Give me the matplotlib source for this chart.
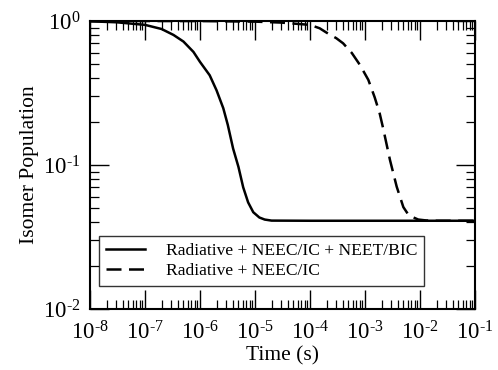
import matplotlib
matplotlib.use("Agg")
import numpy as np
import matplotlib.pyplot as plt
from matplotlib.ticker import LogLocator, NullFormatter, FuncFormatter

plt.rcParams['font.family'] = ['Liberation Serif', 'DejaVu Serif']
plt.rcParams['mathtext.fontset'] = 'custom'
plt.rcParams['mathtext.rm'] = 'Liberation Serif'
plt.rcParams['mathtext.it'] = 'Liberation Serif:italic'
plt.rcParams['mathtext.bf'] = 'Liberation Serif:bold'
plt.rcParams['axes.unicode_minus'] = False

# Data
solid_t = [1e-8, 3e-8, 1e-7, 2e-7, 3.3e-7, 5e-7, 7.6e-7, 1.0e-6, 1.5e-6, 2.0e-6,
           2.65e-6, 3.2e-6, 4.0e-6, 5.0e-6, 6.1e-6, 7.5e-6, 9.3e-6, 1.2e-5, 1.5e-5,
           2e-5, 1e-4, 1e-3, 1e-2, 1e-1]
solid_p = [0.995, 0.98, 0.94, 0.88, 0.80, 0.72, 0.61, 0.52, 0.42, 0.33,
           0.248, 0.19, 0.13, 0.097, 0.07, 0.055, 0.047, 0.0432, 0.0418,
           0.0411, 0.041, 0.041, 0.041, 0.041]

dash_t = [1e-8, 1e-6, 1e-5, 3e-5, 1e-4, 1.5e-4, 2e-4, 3e-4, 4e-4, 5.75e-4, 8.1e-4,
          1.15e-3, 1.5e-3, 1.85e-3, 2.15e-3, 2.85e-3, 3.77e-3, 4.98e-3,
          6.0e-3, 7.1e-3, 9.3e-3, 1.3e-2, 2e-2, 1e-1]
dash_p = [1.0, 0.999, 0.99, 0.975, 0.94, 0.89, 0.83, 0.76, 0.70, 0.60, 0.495,
          0.39, 0.295, 0.228, 0.178, 0.108, 0.0707, 0.051,
          0.0458, 0.0437, 0.0418, 0.0412, 0.041, 0.041]

labels = ["Radiative + NEEC/IC + NEET/BIC", "Radiative + NEEC/IC"]


def pow_label(v, pos):
    e = int(round(np.log10(v)))
    if e < 0:
        return r'$\mathdefault{10^{\text{-}%d}}$' % (-e)
    return r'$\mathdefault{10^{%d}}$' % e


fig = plt.figure(figsize=(4.98, 3.70), dpi=100)
ax = fig.add_axes([90/498, 1-309/370, 385/498, 288/370])

ax.plot(solid_t, solid_p, color='black', lw=1.8, label=labels[0])
ax.plot(dash_t, dash_p, color='black', lw=1.8, dashes=(6, 3), label=labels[1])

ax.set_xscale('log')
ax.set_yscale('log')
ax.set_xlim(1e-8, 1e-1)
ax.set_ylim(1e-2, 1e0)

ax.xaxis.set_major_locator(LogLocator(base=10, numticks=20))
ax.xaxis.set_minor_locator(LogLocator(base=10, subs=range(2, 10), numticks=20))
ax.yaxis.set_major_locator(LogLocator(base=10, numticks=20))
ax.yaxis.set_minor_locator(LogLocator(base=10, subs=range(2, 10), numticks=20))
ax.xaxis.set_major_formatter(FuncFormatter(pow_label))
ax.yaxis.set_major_formatter(FuncFormatter(pow_label))
ax.xaxis.set_minor_formatter(NullFormatter())
ax.yaxis.set_minor_formatter(NullFormatter())

ax.tick_params(which='both', direction='in', top=True, right=True, color='black')
ax.tick_params(which='major', length=13.5, width=1.0, labelsize=16.5)
ax.tick_params(which='minor', length=6.5, width=0.9)
ax.tick_params(axis='x', which='major', pad=9)
ax.tick_params(axis='y', which='major', pad=7)
for s in ax.spines.values():
    s.set_linewidth(1.5)

ax.set_xlabel("Time (s)", fontsize=15.5, labelpad=1)
ax.set_ylabel("Isomer Population", fontsize=15.5, labelpad=3)

leg = ax.legend(loc='lower left', bbox_to_anchor=(9/385, 23.3/288), borderaxespad=0,
                fontsize=12.6, frameon=True, fancybox=False, edgecolor='black',
                handlelength=2.2, handletextpad=1.2, borderpad=0.4, labelspacing=0.2)
leg.get_frame().set_linewidth(1.0)
leg.get_frame().set_facecolor('white')

fig.savefig("out.png", dpi=100)
